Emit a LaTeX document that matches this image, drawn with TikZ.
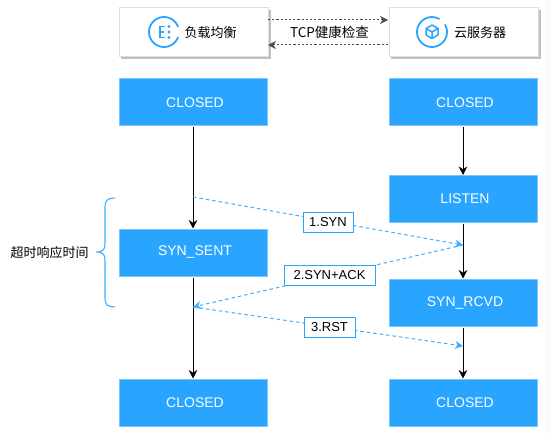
\documentclass[tikz,border=0pt]{standalone}
\usepackage{fontspec}
\setmainfont{Liberation Sans}
\newfontfamily\cjk{Noto Sans CJK SC}
\usetikzlibrary{arrows.meta,calc}
\definecolor{bluefill}{HTML}{29A5FF}
\definecolor{blueedge}{HTML}{7CC6FC}
\newcommand{\st}[1]{\hspace*{4pt}\raisebox{-0.6pt}{#1}}
\tikzset{
  x=1pt,y=-1pt,
  state/.style={draw=blueedge,line width=1pt,fill=bluefill,text=white,minimum width=148pt,minimum height=47pt,inner sep=0pt,font=\fontsize{14}{15}\selectfont},
  head/.style={draw=black!13,line width=1pt,fill=white,minimum width=149pt,minimum height=49pt,inner sep=0pt},
  flow/.style={-{Stealth[length=8.5pt,width=8.5pt]},black,line width=0.8pt},
  check/.style={-{Stealth[length=8pt,width=8pt]},black!70,line width=1pt,dash pattern=on 2.2pt off 2pt},
  msg/.style={-{Stealth[length=8pt,width=8pt]},bluefill!90!white,line width=1pt,dash pattern=on 3.5pt off 3pt},
  tag/.style={draw=bluefill,line width=1pt,fill=white,text=black,inner sep=0pt,minimum height=20pt,font=\fontsize{13}{14}\selectfont},
  ring/.style={draw=bluefill,line width=1.8pt},
  plain/.style={inner sep=0pt,text=black},
  cjktext/.style={plain,font=\cjk\fontsize{13}{14}\selectfont},
}
\begin{document}
\begin{tikzpicture}
\useasboundingbox (0,0) rectangle (551,433);
\fill[white] (0,0) rectangle (551,433);
\fill[black!2] (545,0) rectangle (551,433);
% header boxes with shadow
\fill[black!25] (121,10) rectangle (270.5,59.5);
\fill[black!25] (391,10) rectangle (540.5,59.5);
\node[head] (lb) at (193.5,32.5) {};
\node[head] (cvm) at (463.5,32.5) {};
\node[cjktext] (lbtext) at (210.5,32.5) {负载均衡};
\node[cjktext] (cvmtext) at (480,32.5) {云服务器};
% load balancer icon
\draw[ring] (164,32) ++(20:15) arc (20:340:15);
\draw[bluefill,line width=1.6pt] (165,26.5) -- (160,26.5) -- (160,37.5) -- (165,37.5) (160,32) -- (164,32);
\fill[bluefill] (169,26.5) circle (1.6) (169,32) circle (1.6) (169,37.5) circle (1.6);
% server icon
\draw[ring] (432,32) ++(-30:15) arc (-30:300:15);
\draw[bluefill,line width=1.5pt,line join=round] (432,25) -- (438,28.5) -- (438,35) -- (432,38.5) -- (426,35) -- (426,28.5) -- cycle (426,28.5) -- (432,32) -- (438,28.5) (432,32) -- (432,38);
% states
\node[state] (c1) at (193,102.5) {\st{CLOSED}};
\node[state] (c2) at (463,102.5) {\st{CLOSED}};
\node[state] (listen) at (463,199) {\st{LISTEN}};
\node[state] (sent) at (193,252.5) {\st{SYN\_SENT}};
\node[state] (rcvd) at (463,302.5) {\st{SYN\_RCVD}};
\node[state] (c3) at (193,402.5) {\st{CLOSED}};
\node[state] (c4) at (463,402.5) {\st{CLOSED}};
% flow
\draw[flow] (c1.south) ++(0,1) -- (sent.north);
\draw[flow] (sent.south) ++(0,1) -- (c3.north);
\draw[flow] (c2.south) ++(0,1) -- (listen.north);
\draw[flow] (listen.south) ++(0,1) -- (rcvd.north);
\draw[flow] (rcvd.south) ++(0,1) -- (c4.north);
% health check
\coordinate (hc1a) at (268,20); \coordinate (hc1b) at (388,20);
\coordinate (hc2a) at (388,45); \coordinate (hc2b) at (268,45);
\draw[check] (hc1a) -- (hc1b);
\draw[check] (hc2a) -- (hc2b);
\node[plain,font=\cjk\fontsize{13.5}{14}\selectfont] (hc) at (329.5,32.5) {TCP健康检查};
% messages
\coordinate (m1s) at (193,197); \coordinate (m1e) at (463,245);
\coordinate (m2s) at (463,245); \coordinate (m2e) at (193,307);
\coordinate (m3s) at (193,307); \coordinate (m3e) at (463,346);
\draw[msg] (m1s) -- (m1e);
\draw[msg] (m2s) -- (m2e);
\draw[msg] (m3s) -- (m3e);
\node[tag,minimum width=50pt] (t1) at (328,222) {1.SYN};
\node[tag,minimum width=91pt] (t2) at (329.5,275.5) {2.SYN+ACK};
\node[tag,minimum width=51pt] (t3) at (329.5,327) {3.RST};
% brace
\draw[bluefill!90!white,line width=1.1pt] (115,198) .. controls (108,198) and (105,200) .. (105,207) -- (105,243) .. controls (105,249) and (104,252) .. (96,252) (96,252) .. controls (104,252) and (105,255) .. (105,261) -- (105,298) .. controls (105,305) and (108,307) .. (115,307);
\node[cjktext] (timeout) at (49.5,252.5) {超时响应时间};
\end{tikzpicture}
\end{document}
